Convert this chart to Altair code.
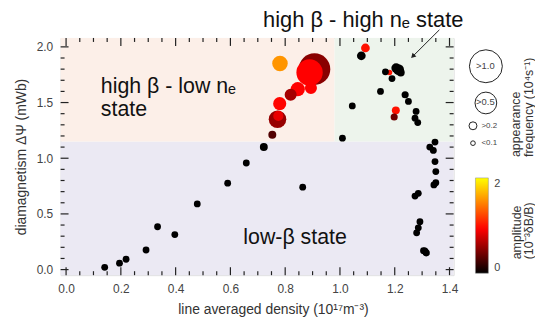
import altair as alt
import pandas as pd

# ---------------- data ----------------
# colored (non-zero amplitude) events
col_x = [0.907, 0.889, 0.894, 0.846, 0.820, 0.780, 0.772, 0.775, 0.753, 0.781, 1.093, 1.181, 1.204, 1.198]
col_y = [1.80, 1.77, 1.63, 1.62, 1.57, 1.49, 1.35, 1.38, 1.21, 1.85, 1.99, 1.77, 1.43, 1.37]
col_amp = [0.50, 0.93, 0.93, 0.93, 0.60, 0.95, 0.55, 0.85, 0.30, 1.55, 1.00, 1.00, 1.00, 0.40]
col_freq = [0.93, 0.68, 0.26, 0.30, 0.26, 0.28, 0.38, 0.23, 0.20, 0.33, 0.21, 0.12, 0.20, 0.17]

# black (amplitude ~0) events
blk_x = [0.141, 0.195, 0.219, 0.292, 0.334, 0.397, 0.479, 0.590, 0.658, 0.722, 0.864, 1.009,
         1.078, 1.166, 1.190, 1.214, 1.205, 1.222, 1.148, 1.045, 1.238, 1.250, 1.278, 1.274, 1.284,
         1.328, 1.347, 1.341, 1.347, 1.350, 1.343, 1.350, 1.274, 1.286, 1.292, 1.286, 1.280, 1.310, 1.315, 1.305]
blk_y = [0.02, 0.058, 0.093, 0.176, 0.385, 0.314, 0.59, 0.776, 0.957, 1.10, 0.74, 1.18,
         1.92, 1.776, 1.715, 1.795, 1.81, 1.77, 1.60, 1.47, 1.57, 1.51, 1.42, 1.36, 1.32,
         1.10, 1.145, 1.07, 0.97, 0.88, 0.76, 0.78, 0.66, 0.685, 0.43, 0.375, 0.33, 0.167, 0.15, 0.17]
blk_freq = [0.16] * 9 + [0.20, 0.16, 0.16,
            0.21, 0.16, 0.16, 0.24, 0.22, 0.20, 0.16, 0.16, 0.17, 0.16, 0.16, 0.16, 0.16,
            0.16, 0.16, 0.16, 0.16, 0.16, 0.16, 0.16, 0.16, 0.16, 0.16, 0.16, 0.16, 0.17, 0.17, 0.16]

# background state regions
reg_x0 = [-0.02, -0.02, 0.98]
reg_x1 = [1.415, 0.98, 1.415]
reg_y0 = [-0.05, 1.15, 1.15]
reg_y1 = [1.15, 2.08, 2.08]
reg_col = ["#ebe9f3", "#fcefe8", "#edf4ec"]

x_major = [0.0, 0.2, 0.4, 0.6, 0.8, 1.0, 1.2, 1.4]
x_minor = [0.05, 0.1, 0.15, 0.25, 0.3, 0.35, 0.45, 0.5, 0.55, 0.65, 0.7, 0.75, 0.85, 0.9, 0.95,
           1.05, 1.1, 1.15, 1.25, 1.3, 1.35]
y_major = [0.0, 0.5, 1.0, 1.5, 2.0]
y_minor = [0.1, 0.2, 0.3, 0.4, 0.6, 0.7, 0.8, 0.9, 1.1, 1.2, 1.3, 1.4, 1.6, 1.7, 1.8, 1.9]

W, H = 396, 239
FONT = "Liberation Sans"

col_df = pd.DataFrame({"x": col_x, "y": col_y, "amp": col_amp, "freq": col_freq})
blk_df = pd.DataFrame({"x": blk_x, "y": blk_y, "amp": [0.0] * len(blk_x), "freq": blk_freq})
reg_df = pd.DataFrame({"x0": reg_x0, "x1": reg_x1, "y0": reg_y0, "y1": reg_y1, "c": reg_col})

xs = alt.Scale(domain=[-0.02, 1.415], nice=False, zero=False)
ys = alt.Scale(domain=[-0.05, 2.08], nice=False, zero=False)
size_scale = alt.Scale(domain=[0.1, 0.2, 0.5, 1.0], range=[22, 64, 480, 1100])
color_scale = alt.Scale(domain=[0, 0.93, 1.57, 2.0],
                        range=["#000000", "#ff0000", "#ff9a00", "#ffff00"], interpolate="rgb")

regions = alt.Chart(reg_df).mark_rect().encode(
    x=alt.X("x0:Q", scale=xs,
            axis=alt.Axis(values=x_major, format=".1f", ticks=False, domain=False, grid=False,
                          labelFont=FONT, labelFontSize=12, labelColor="#444", labelPadding=8,
                          title="line averaged density (10¹⁷m⁻³)", titleFont=FONT,
                          titleFontSize=14, titleFontWeight="normal", titleColor="#333",
                          titlePadding=9, titleX=214)),
    x2="x1:Q",
    y=alt.Y("y0:Q", scale=ys,
            axis=alt.Axis(values=y_major, format=".1f", ticks=False, domain=False, grid=False,
                          labelFont=FONT, labelFontSize=12, labelColor="#444", labelPadding=8,
                          title="diamagnetism ΔΨ (mWb)", titleFont=FONT, titleFontSize=14,
                          titleFontWeight="normal", titleColor="#333", titlePadding=8)),
    y2="y1:Q",
    color=alt.Color("c:N", scale=None),
)

def tick_rules(vals, axis, length, side):
    df = pd.DataFrame({"v": vals})
    base = alt.Chart(df).mark_rule(color="#222", strokeWidth=1.2)
    if axis == "x":
        if side == "bottom":
            return base.encode(x=alt.X("v:Q", scale=xs), y=alt.value(H), y2=alt.value(H - length))
        return base.encode(x=alt.X("v:Q", scale=xs), y=alt.value(0), y2=alt.value(length))
    if side == "left":
        return base.encode(y=alt.Y("v:Q", scale=ys), x=alt.value(0), x2=alt.value(length))
    return base.encode(y=alt.Y("v:Q", scale=ys), x=alt.value(W), x2=alt.value(W - length))

ticks = [
    tick_rules(x_major, "x", 8, "bottom"), tick_rules(x_minor, "x", 4, "bottom"),
    tick_rules(x_major, "x", 8, "top"), tick_rules(x_minor, "x", 4, "top"),
    tick_rules(y_major, "y", 8, "left"), tick_rules(y_minor, "y", 4, "left"),
    tick_rules(y_major, "y", 8, "right"), tick_rules(y_minor, "y", 4, "right"),
]

color_enc = alt.Color("amp:Q", scale=color_scale,
                      legend=alt.Legend(orient="none", legendX=418, legendY=141,
                                        values=[0, 2], gradientLength=96, gradientThickness=13,
                                        gradientStrokeColor="#888", gradientStrokeWidth=0.5,
                                        labelFont=FONT, labelFontSize=11, labelColor="#444",
                                        labelOffset=6, title=None))

colored = alt.Chart(col_df).mark_circle(opacity=1).encode(
    x=alt.X("x:Q", scale=xs), y=alt.Y("y:Q", scale=ys),
    color=color_enc,
    size=alt.Size("freq:Q", scale=size_scale,
                  legend=alt.Legend(orient="none", legendX=411, legendY=11, values=[1.0, 0.5],
                                    labelExpr="''", rowPadding=4,
                                    symbolFillColor="transparent", symbolStrokeColor="#222",
                                    symbolStrokeWidth=1, title=None)),
)

black = alt.Chart(blk_df).mark_circle(opacity=1).encode(
    x=alt.X("x:Q", scale=xs), y=alt.Y("y:Q", scale=ys),
    color=color_enc,
    size=alt.Size("freq:Q", scale=size_scale,
                  legend=alt.Legend(orient="none", legendX=411, legendY=84, values=[0.2, 0.1],
                                    labelExpr="datum.value > 0.15 ? '>0.2' : '<0.1'",
                                    labelFont=FONT, labelFontSize=8, labelColor="#444",
                                    labelOffset=4, rowPadding=6,
                                    symbolFillColor="transparent", symbolStrokeColor="#222",
                                    symbolStrokeWidth=1, title=None)),
)

# labels inside the two large legend circles
in_df = pd.DataFrame({"t": [">1.0", ">0.5"], "px": [428, 428], "py": [28.5, 65]})
in_labels = alt.Chart(in_df).mark_text(
    align="center", baseline="middle", font=FONT, fontSize=9.5, color="#444"
).encode(x=alt.X("px:Q", scale=None), y=alt.Y("py:Q", scale=None), text="t:N")

# legend titles (rotated, reading bottom to top)
lt_df = pd.DataFrame({
    "t": ["appearance", "frequency (10⁴s⁻¹)", "amplitude", "(10⁻³δB/B)"],
    "px": [459, 472, 460, 472],
    "py": [120, 120, 223, 223],
})
leg_titles = alt.Chart(lt_df).mark_text(
    align="left", baseline="middle", angle=270, font=FONT, fontSize=12.5, color="#333"
).encode(x=alt.X("px:Q", scale=None), y=alt.Y("py:Q", scale=None), text="t:N")

# annotations (baseline positions in data units)
ann_df = pd.DataFrame({
    "x": [0.127, 0.127, 0.647, 1.085],
    "y": [1.585, 1.38, 0.226, 2.178],
    "t": ["high β - low nₑ", "state", "low-β state", "high β - high nₑ state"],
    "a": ["left", "left", "left", "center"],
})
ann_left = alt.Chart(ann_df[ann_df.a == "left"]).mark_text(
    align="left", baseline="alphabetic", font=FONT, fontSize=21.5, color="#111"
).encode(x=alt.X("x:Q", scale=xs), y=alt.Y("y:Q", scale=ys), text="t:N")
ann_top = alt.Chart(ann_df[ann_df.a == "center"]).mark_text(
    align="center", baseline="alphabetic", font=FONT, fontSize=22, color="#111"
).encode(x=alt.X("x:Q", scale=xs), y=alt.Y("y:Q", scale=ys), text="t:N")

arrow_df = pd.DataFrame({"x": [1.363], "y": [2.153], "x2": [1.268], "y2": [1.92]})
arrow_line = alt.Chart(arrow_df).mark_rule(color="#222", strokeWidth=1).encode(
    x=alt.X("x:Q", scale=xs), y=alt.Y("y:Q", scale=ys), x2="x2:Q", y2="y2:Q")
arrow_head = alt.Chart(arrow_df).mark_point(shape="triangle", filled=True, color="#222",
                                            opacity=1, size=30, angle=225).encode(
    x=alt.X("x2:Q", scale=xs), y=alt.Y("y2:Q", scale=ys))

chart = alt.layer(regions, *ticks, colored, black, ann_left, ann_top, arrow_line, arrow_head,
                  leg_titles, in_labels).resolve_legend(
    size="independent"
).properties(
    width=W, height=H,
    autosize=alt.AutoSizeParams(type="none"),
    padding={"left": 53, "top": 29, "right": 82, "bottom": 45},
).configure_view(stroke="#222", strokeWidth=1.5).configure(background="white")

chart.save("out.html", embed_options={"renderer": "svg", "actions": False})
